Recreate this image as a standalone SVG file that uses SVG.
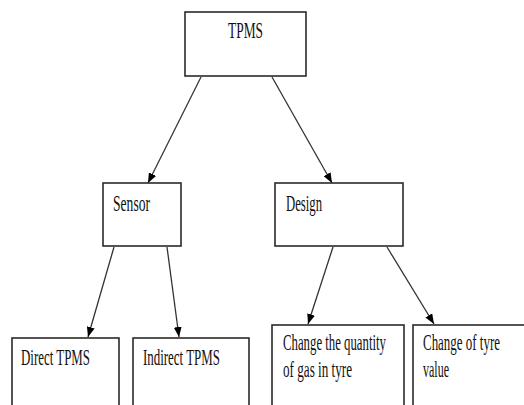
<svg xmlns="http://www.w3.org/2000/svg" width="524" height="405" viewBox="0 0 524 405">
<style>
.box{fill:#fff;stroke:#2a2a2a;stroke-width:1.6}
.lbl{font-family:"Liberation Serif","Times New Roman",serif;font-size:23px;fill:#111}
.edge{stroke:#333;stroke-width:1.3;fill:none;marker-end:url(#ah)}
</style>
<defs>
<marker id="ah" viewBox="0 0 10 8" refX="10" refY="4" markerWidth="10" markerHeight="8" markerUnits="userSpaceOnUse" orient="auto">
<path d="M0,0 L10,4 L0,8 z" fill="#000"/>
</marker>
</defs>
<rect width="524" height="405" fill="#fff"/>
<g id="edges">
<line class="edge" x1="201" y1="77" x2="148" y2="183"/>
<line class="edge" x1="272" y1="77" x2="332" y2="183"/>
<line class="edge" x1="114" y1="247" x2="88" y2="337"/>
<line class="edge" x1="167" y1="247" x2="179" y2="337"/>
<line class="edge" x1="333" y1="247" x2="308" y2="324"/>
<line class="edge" x1="387" y1="247" x2="434" y2="324"/>
</g>
<g id="n-tpms">
<rect class="box" x="185" y="12" width="121" height="64"/>
<text class="lbl" transform="translate(228,38) scale(0.57,1)" textLength="61.4" lengthAdjust="spacingAndGlyphs">TPMS</text>
</g>
<g id="n-sensor">
<rect class="box" x="103" y="183" width="78" height="63"/>
<text class="lbl" transform="translate(113,211) scale(0.57,1)" textLength="64.9" lengthAdjust="spacingAndGlyphs">Sensor</text>
</g>
<g id="n-design">
<rect class="box" x="275" y="183" width="128" height="63"/>
<text class="lbl" transform="translate(286,211) scale(0.57,1)" textLength="63.2" lengthAdjust="spacingAndGlyphs">Design</text>
</g>
<g id="n-direct">
<rect class="box" x="12" y="338" width="107" height="80"/>
<text class="lbl" transform="translate(21,365) scale(0.57,1)" textLength="121" lengthAdjust="spacingAndGlyphs">Direct TPMS</text>
</g>
<g id="n-indirect">
<rect class="box" x="133" y="338" width="116" height="80"/>
<text class="lbl" transform="translate(143,365) scale(0.57,1)" textLength="135" lengthAdjust="spacingAndGlyphs">Indirect TPMS</text>
</g>
<g id="n-change-gas">
<rect class="box" x="272" y="325" width="132" height="90"/>
<text class="lbl" transform="translate(283,350) scale(0.57,1)" textLength="180.7" lengthAdjust="spacingAndGlyphs">Change the quantity</text>
<text class="lbl" transform="translate(283,377) scale(0.57,1)" textLength="121" lengthAdjust="spacingAndGlyphs">of gas in tyre</text>
</g>
<g id="n-change-tyre">
<rect class="box" x="413" y="325" width="130" height="90"/>
<text class="lbl" transform="translate(423,350) scale(0.57,1)" textLength="135" lengthAdjust="spacingAndGlyphs">Change of tyre</text>
<text class="lbl" transform="translate(423,377) scale(0.57,1)" textLength="45.6" lengthAdjust="spacingAndGlyphs">value</text>
</g>
</svg>
